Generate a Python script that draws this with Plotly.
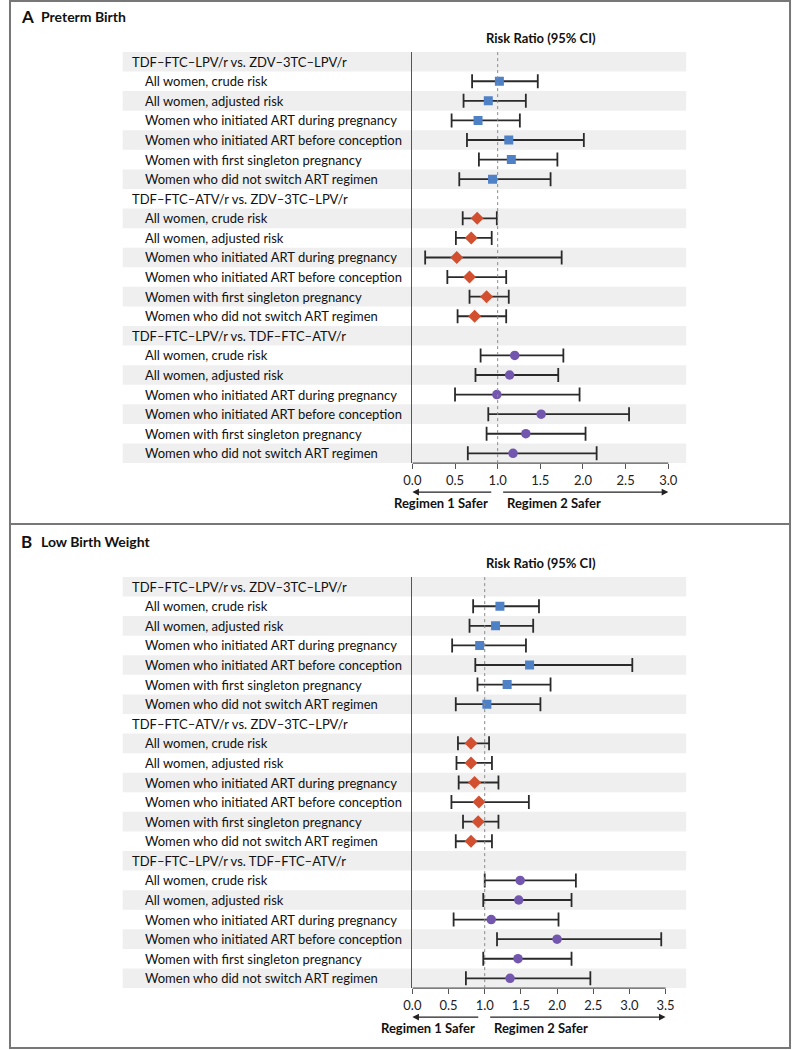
import plotly.graph_objects as go

W, H = 792, 1050

row_labels = [
    "TDF\u2013FTC\u2013LPV/r vs. ZDV\u20133TC\u2013LPV/r",
    "All women, crude risk",
    "All women, adjusted risk",
    "Women who initiated ART during pregnancy",
    "Women who initiated ART before conception",
    "Women with first singleton pregnancy",
    "Women who did not switch ART regimen",
    "TDF\u2013FTC\u2013ATV/r vs. ZDV\u20133TC\u2013LPV/r",
    "All women, crude risk",
    "All women, adjusted risk",
    "Women who initiated ART during pregnancy",
    "Women who initiated ART before conception",
    "Women with first singleton pregnancy",
    "Women who did not switch ART regimen",
    "TDF\u2013FTC\u2013LPV/r vs. TDF\u2013FTC\u2013ATV/r",
    "All women, crude risk",
    "All women, adjusted risk",
    "Women who initiated ART during pregnancy",
    "Women who initiated ART before conception",
    "Women with first singleton pregnancy",
    "Women who did not switch ART regimen",
]
header_rows = [0, 7, 14]

# Panel A: preterm birth (risk ratio, lower, upper) per comparison
a_rr_1 = [1.02, 0.89, 0.77, 1.13, 1.16, 0.94]
a_lo_1 = [0.70, 0.60, 0.46, 0.64, 0.78, 0.55]
a_hi_1 = [1.47, 1.33, 1.26, 2.01, 1.70, 1.62]
a_rr_2 = [0.76, 0.69, 0.52, 0.67, 0.87, 0.73]
a_lo_2 = [0.59, 0.51, 0.15, 0.41, 0.67, 0.53]
a_hi_2 = [0.99, 0.93, 1.75, 1.10, 1.13, 1.10]
a_rr_3 = [1.20, 1.14, 0.99, 1.51, 1.33, 1.18]
a_lo_3 = [0.80, 0.74, 0.50, 0.89, 0.87, 0.65]
a_hi_3 = [1.77, 1.71, 1.96, 2.54, 2.03, 2.16]

# Panel B: low birth weight
b_rr_1 = [1.21, 1.15, 0.93, 1.62, 1.31, 1.03]
b_lo_1 = [0.84, 0.79, 0.55, 0.87, 0.90, 0.60]
b_hi_1 = [1.75, 1.67, 1.57, 3.04, 1.91, 1.77]
b_rr_2 = [0.81, 0.81, 0.86, 0.92, 0.91, 0.81]
b_lo_2 = [0.63, 0.61, 0.64, 0.54, 0.70, 0.60]
b_hi_2 = [1.06, 1.10, 1.19, 1.61, 1.19, 1.10]
b_rr_3 = [1.49, 1.47, 1.09, 2.00, 1.46, 1.35]
b_lo_3 = [1.00, 0.98, 0.57, 1.17, 0.98, 0.74]
b_hi_3 = [2.26, 2.20, 2.02, 3.44, 2.20, 2.46]

a_ticks = [0.0, 0.5, 1.0, 1.5, 2.0, 2.5, 3.0]
b_ticks = [0.0, 0.5, 1.0, 1.5, 2.0, 2.5, 3.0, 3.5]

FONT = "Lato"
TXT = "#111111"
styles = [("square", "#4F81C6", 9), ("diamond", "#D2502F", 10), ("circle", "#7356AE", 9.5)]


def px(x):
    return x / W


def py(y):
    return 1 - y / H


fig = go.Figure()
shapes = []
annotations = []


def panel(xa, ya, rr, lo, hi, ticks, xmax, top, bottom, letter, title):
    xref = "x" if xa == 1 else "x%d" % xa
    yref = "y" if ya == 1 else "y%d" % ya
    for g in range(3):
        rows = [header_rows[g] + 1 + i for i in range(6)]
        sym, col, size = styles[g]
        fig.add_trace(go.Scatter(
            x=rr[g], y=rows, xaxis=xref, yaxis=yref, mode="markers",
            marker=dict(symbol=sym, color=col, size=size, line=dict(width=0)),
            error_x=dict(type="data", symmetric=False,
                         array=[h - r for h, r in zip(hi[g], rr[g])],
                         arrayminus=[r - l for r, l in zip(rr[g], lo[g])],
                         color="#2a2a2a", thickness=1.8, width=7),
            showlegend=False, hoverinfo="skip"))
    # shaded bands and row labels
    for i, lab in enumerate(row_labels):
        if i % 2 == 0:
            shapes.append(dict(type="rect", xref="paper", yref=yref,
                               x0=px(115), x1=px(685), y0=i - 0.5, y1=i + 0.5,
                               fillcolor="#EFEFEF", line=dict(width=0), layer="below"))
        annotations.append(dict(text=lab, xref="paper", yref=yref,
                                x=px(122 if i in header_rows else 136), y=i,
                                xanchor="left", yanchor="middle", showarrow=False,
                                font=dict(family=FONT, size=13, color=TXT)))
    # x axis line from 0 to last tick, dashed reference at 1
    shapes.append(dict(type="line", xref=xref, yref=yref + " domain",
                       x0=0, x1=ticks[-1], y0=0, y1=0,
                       line=dict(color="#555555", width=1.3)))
    shapes.append(dict(type="line", xref=xref, yref=yref + " domain",
                       x0=1, x1=1, y0=0, y1=1,
                       line=dict(color="#8a8a8a", width=1, dash="3px,3px")))
    fig.update_layout({
        ("xaxis" if xa == 1 else "xaxis%d" % xa): dict(
            domain=[px(408), px(685)], range=[0, xmax], anchor=yref,
            tickvals=ticks, ticktext=["%.1f" % t for t in ticks],
            ticks="outside", ticklen=5, tickcolor="#555555", tickwidth=1.2,
            showgrid=False, zeroline=False, showline=False,
            tickfont=dict(family=FONT, size=13, color="#222222")),
        ("yaxis" if ya == 1 else "yaxis%d" % ya): dict(
            domain=[py(bottom), py(top)], range=[20.5, -0.5], anchor=xref,
            showticklabels=False, ticks="", showgrid=False, zeroline=False,
            showline=True, linecolor="#555555", linewidth=1.3),
    })
    # column title
    annotations.append(dict(text="<b>Risk Ratio (95% CI)</b>", xref="paper", yref="paper",
                            x=px(538), y=py(top - 14), xanchor="center", yanchor="middle",
                            showarrow=False, font=dict(family=FONT, size=13, color=TXT)))
    # panel title
    annotations.append(dict(text="<b>%s</b>" % letter, xref="paper", yref="paper",
                            x=px(10), y=py(top - 35), xanchor="left", yanchor="middle",
                            showarrow=False, font=dict(family=FONT, size=17, color=TXT)))
    annotations.append(dict(text="<b>%s</b>" % title, xref="paper", yref="paper",
                            x=px(30), y=py(top - 35), xanchor="left", yanchor="middle",
                            showarrow=False, font=dict(family=FONT, size=14, color=TXT)))
    # direction arrows
    ya_px = bottom + 29
    scale = (685 - 408) / xmax
    x1px = 408 + scale
    annotations.append(dict(xref=xref, yref="paper", x=0, y=py(ya_px),
                            axref=xref, ax=(x1px - 5 - 408) / scale, ayref="pixel", ay=0,
                            showarrow=True, arrowhead=2, arrowsize=1.1, arrowwidth=1.2,
                            arrowcolor="#222222", standoff=0, text=""))
    annotations.append(dict(xref=xref, yref="paper", x=ticks[-1], y=py(ya_px),
                            axref=xref, ax=(x1px + 4 - 408) / scale, ayref="pixel", ay=0,
                            showarrow=True, arrowhead=2, arrowsize=1.1, arrowwidth=1.2,
                            arrowcolor="#222222", standoff=0, text=""))
    annotations.append(dict(text="<b>Regimen 1 Safer</b>", xref="paper", yref="paper",
                            x=px(x1px - 8), y=py(ya_px + 11), xanchor="right", yanchor="middle",
                            showarrow=False, font=dict(family=FONT, size=13, color=TXT)))
    annotations.append(dict(text="<b>Regimen 2 Safer</b>", xref="paper", yref="paper",
                            x=px(x1px + 7), y=py(ya_px + 11), xanchor="left", yanchor="middle",
                            showarrow=False, font=dict(family=FONT, size=13, color=TXT)))


panel(1, 1, [a_rr_1, a_rr_2, a_rr_3], [a_lo_1, a_lo_2, a_lo_3], [a_hi_1, a_hi_2, a_hi_3],
      a_ticks, 3.21, 51.9, 463.1, "A", "Preterm Birth")
panel(2, 2, [b_rr_1, b_rr_2, b_rr_3], [b_lo_1, b_lo_2, b_lo_3], [b_hi_1, b_hi_2, b_hi_3],
      b_ticks, 3.785, 576.9, 988.1, "B", "Low Birth Weight")

# outer frame and divider
shapes.append(dict(type="rect", xref="paper", yref="paper", x0=px(1), x1=px(790),
                   y0=py(1), y1=py(1048), line=dict(color="#777777", width=2)))
shapes.append(dict(type="line", xref="paper", yref="paper", x0=px(1), x1=px(790),
                   y0=py(524), y1=py(524), line=dict(color="#777777", width=2)))

fig.update_layout(width=W, height=H, margin=dict(l=0, r=0, t=0, b=0),
                  paper_bgcolor="white", plot_bgcolor="rgba(0,0,0,0)",
                  shapes=shapes, annotations=annotations,
                  font=dict(family=FONT, size=13, color=TXT))

# drop the default 8px page margin so the figure sits at the window origin
fig.write_html("out.html", config={"displayModeBar": False},
               post_script="document.body.style.margin='0px';")
